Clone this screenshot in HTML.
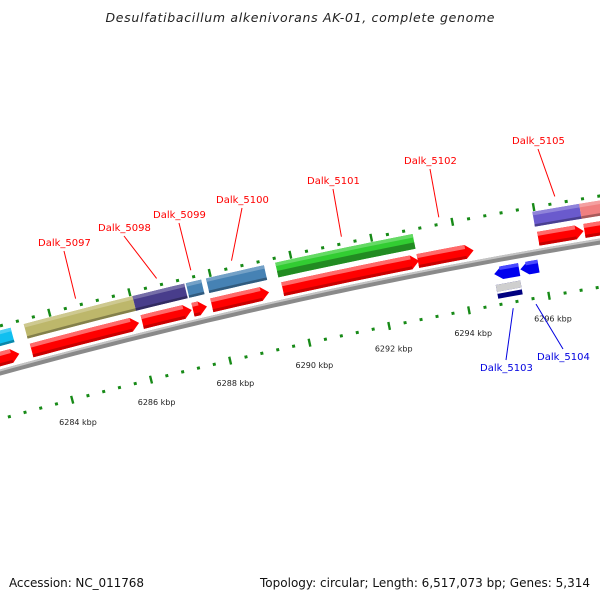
<!DOCTYPE html>
<html><head><meta charset="utf-8"><style>
html,body{margin:0;padding:0;background:#fff;}
svg{display:block;font-family:"DejaVu Sans","Liberation Sans",sans-serif;}
</style></head><body>
<svg id="map" width="600" height="600" viewBox="0 0 600 600" xmlns="http://www.w3.org/2000/svg">
<rect width="600" height="600" fill="#fff"/>
<text x="300" y="22" text-anchor="middle" font-size="12.5" font-style="italic" fill="#222" textLength="389">Desulfatibacillum alkenivorans AK-01, complete genome</text>
<g id="tracks"></g>
<g id="labels"></g>
<text x="9" y="587" font-size="12" fill="#111" textLength="135">Accession: NC_011768</text>
<text x="590" y="587" text-anchor="end" font-size="12" fill="#111" textLength="330">Topology: circular; Length: 6,517,073 bp; Genes: 5,314</text>
</svg>
<script>
// forward-strand genes (kbp)
const fwdStart = [6281.0, 6283.35, 6286.13, 6287.40, 6287.87, 6289.64, 6293.00, 6295.98, 6297.12];
const fwdEnd   = [6283.04, 6286.05, 6287.37, 6287.75, 6289.30, 6293.03, 6294.38, 6297.10, 6299.5];
// forward CDS feature bars (kbp)
const cdsStart = [6281.0, 6283.33, 6286.05, 6287.38, 6287.88, 6289.60, 6295.95, 6297.10];
const cdsEnd   = [6283.00, 6286.05, 6287.34, 6287.76, 6289.32, 6293.00, 6297.10, 6299.5];
const cdsColor = ["#10bff0", "#bdb76b", "#483d8b", "#4682b4", "#4682b4", "#32cd32", "#6a5acd", "#f08080"];
// reverse-strand genes (kbp)
const revStart = [6294.77, 6295.42];
const revEnd   = [6295.39, 6295.87];
// reverse feature bar
const rcdsStart = [6294.76];
const rcdsEnd   = [6295.37];
// ticks
const tickMin = 6280, tickMax = 6300, tickStep = 0.4, majorEvery = 2;
const tickLabels = [6284, 6286, 6288, 6290, 6292, 6294, 6296];
// gene labels
const labelNames = ["Dalk_5097","Dalk_5098","Dalk_5099","Dalk_5100","Dalk_5101","Dalk_5102","Dalk_5105"];
const labelPos   = [6284.70, 6286.72, 6287.57, 6288.58, 6291.30, 6293.70, 6296.55];
const revLabelNames = ["Dalk_5103","Dalk_5104"];
const revLabelPos   = [6295.08, 6295.65];

const NS = "http://www.w3.org/2000/svg";
const CX = 1535.5, CY = 5965.6, R0 = 5800, P0 = 6290;
const PHI0 = -12.3 * Math.PI / 180, DPHI = 41 / 5800;
function pt(p, r) { const a = PHI0 + (p - P0) * DPHI; return [CX + r * Math.sin(a), CY - r * Math.cos(a)]; }
function arcPts(p1, p2, r) { const n = Math.max(2, Math.ceil(Math.abs(p2 - p1) * 3)); const a = []; for (let i = 0; i <= n; i++) a.push(pt(p1 + (p2 - p1) * i / n, r)); return a; }
function poly(points, fill, parent, name) {
  const e = document.createElementNS(NS, "polygon");
  e.setAttribute("points", points.map(q => q[0].toFixed(2) + "," + q[1].toFixed(2)).join(" "));
  e.setAttribute("fill", fill);
  
  
  parent.appendChild(e); return e;
}
function band(p1, p2, rIn, rOut, fill, parent, name) {
  return poly(arcPts(p1, p2, rOut).concat(arcPts(p2, p1, rIn)), fill, parent, name);
}
function arrow(p1, p2, rc, h, dir, fill, parent, name) {
  const hd = Math.min(8 / 41, (p2 - p1) * 0.6);
  const rO = rc + h / 2, rI = rc - h / 2;
  let pts;
  if (dir > 0) pts = arcPts(p1, p2 - hd, rO).concat([pt(p2, rc)], arcPts(p2 - hd, p1, rI));
  else pts = [pt(p1, rc)].concat(arcPts(p1 + hd, p2, rO), arcPts(p2, p1 + hd, rI));
  return poly(pts, fill, parent, name);
}
function shade(hex, f) {
  const n = parseInt(hex.slice(1), 16); let r = n >> 16, g = (n >> 8) & 255, b = n & 255;
  const m = c => Math.max(0, Math.min(255, Math.round(f > 0 ? c + (255 - c) * f : c * (1 + f))));
  return "rgb(" + m(r) + "," + m(g) + "," + m(b) + ")";
}
const T = document.getElementById("tracks");

// backbone
band(6279, 6301, R0 - 3, R0 + 3, "#8a8a8a", T, "backbone");
band(6279, 6301, R0 + 1, R0 + 3, "#c4c4c4", T, "backbone-highlight");

// tick tracks
function addTicks(r, name) {
  const nT = Math.round((tickMax - tickMin) / tickStep);
  for (let i = 0; i <= nT; i++) {
    const p = tickMin + i * tickStep;
    const major = Math.abs(p / majorEvery - Math.round(p / majorEvery)) < 1e-6;
    const len = major ? 8 : 3, w = (major ? 2.4 : 3) / 41;
    band(p - w / 2, p + w / 2, r - len / 2, r + len / 2, "#178a17", T, major ? name + "-major-tick" : name + "-minor-tick");
  }
}
addTicks(5845, "upper");
addTicks(5755, "lower");

// tick labels
tickLabels.forEach(k => {
  const q = pt(k, 5732);
  const t = document.createElementNS(NS, "text");
  t.setAttribute("x", q[0].toFixed(1)); t.setAttribute("y", (q[1] + 3).toFixed(1));
  t.setAttribute("text-anchor", "middle"); t.setAttribute("font-size", "8"); t.setAttribute("fill", "#222");
  t.textContent = k + " kbp";
  
  
  T.appendChild(t);
});

// forward CDS bars
cdsStart.forEach((s, i) => {
  const e = cdsEnd[i], c = cdsColor[i], rc = 5833;
  band(s, e, rc - 7.5, rc + 7.5, c, T, "cds-bar");
  band(s, e, rc + 4, rc + 7.5, shade(c, 0.25), T, "cds-bar-highlight");
  if (c === "#32cd32") band(s, e, rc - 7.5, rc - 1, "#228b22", T, "cds-bar-lower");
  else band(s, e, rc - 7.5, rc - 5, shade(c, -0.3), T, "cds-bar-shadow");
});

// forward genes
fwdStart.forEach((s, i) => {
  const e = fwdEnd[i];
  arrow(s, e, 5813, 14, 1, "#f00", T, "forward-gene");
  const hd = Math.min(8 / 41, (e - s) * 0.6);
  band(s, e - hd, 5816, 5820, "#ff6a6a", T, "forward-gene-highlight");
  band(s, e - hd, 5806, 5809, "#c80000", T, "forward-gene-shadow");
});

// reverse CDS bar
rcdsStart.forEach((s, i) => {
  band(s, rcdsEnd[i], 5761, 5775, "#000080", T, "reverse-cds-bar");
  band(s, rcdsEnd[i], 5768, 5775, "#cfcfcf", T, "reverse-cds-bar-top");
  band(s, rcdsEnd[i], 5766, 5768, "#ffffff", T, "reverse-cds-bar-gap");
});

// reverse genes
revStart.forEach((s, i) => {
  arrow(s, revEnd[i], 5786, 13, -1, "#0000ee", T, "reverse-gene");
  band(s + 6 / 41, revEnd[i], 5789, 5792.5, "#4a4aff", T, "reverse-gene-highlight");
});

// labels
const L = document.getElementById("labels");
const labelXY = [[38,246],[98,231],[153,218],[216,203],[307,184],[404,164],[512,144]];
const revLabelXY = [[480,371],[537,360]];
function addLabel(name, pos, xy, color, below, rEnd) {
  const t = document.createElementNS(NS, "text");
  t.setAttribute("x", xy[0]); t.setAttribute("y", xy[1]);
  t.setAttribute("font-size", "10"); t.setAttribute("fill", color);
  t.textContent = name;
  
  
  L.appendChild(t);
  const q = pt(pos, rEnd);
  const ln = document.createElementNS(NS, "line");
  const lx = xy[0] + 26, ly = below ? xy[1] - 11 : xy[1] + 5;
  ln.setAttribute("x1", lx); ln.setAttribute("y1", ly);
  ln.setAttribute("x2", q[0].toFixed(1)); ln.setAttribute("y2", q[1].toFixed(1));
  ln.setAttribute("stroke", color); ln.setAttribute("stroke-width", "1");
  
  
  L.appendChild(ln);
}
labelNames.forEach((n, i) => addLabel(n, labelPos[i], labelXY[i], "#f00", false, 5852));
revLabelNames.forEach((n, i) => addLabel(n, revLabelPos[i], revLabelXY[i], "#0000e0", true, 5749));
</script>
</body></html>
